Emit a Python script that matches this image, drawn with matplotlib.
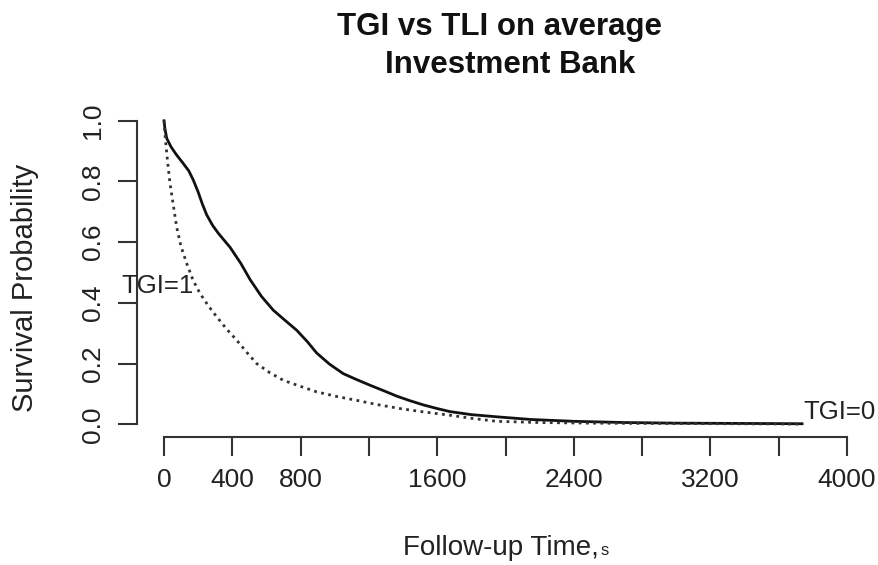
import matplotlib
matplotlib.use("Agg")
import matplotlib.pyplot as plt
import numpy as np

plt.rcParams["font.family"] = ["Liberation Sans", "DejaVu Sans"]

# survival curves
tgi0_time = [0, 5, 16, 40, 70, 113, 145, 172, 200, 225, 250, 285, 320, 387, 450,
             504, 570, 640, 710, 777, 840, 894, 970, 1050, 1130, 1206, 1290, 1363,
             1440, 1519, 1600, 1675, 1800, 1968, 2150, 2400, 2700, 3000, 3400, 3737]
tgi0_surv = [1.0, 0.975, 0.942, 0.915, 0.89, 0.859, 0.835, 0.804, 0.765, 0.725,
             0.69, 0.655, 0.628, 0.583, 0.53, 0.477, 0.422, 0.376, 0.342, 0.31,
             0.272, 0.235, 0.198, 0.167, 0.147, 0.129, 0.11, 0.093, 0.078, 0.064,
             0.052, 0.042, 0.032, 0.024, 0.016, 0.01, 0.006, 0.004, 0.003, 0.002]

tgi1_time = [0, 8, 20, 35, 55, 74, 100, 133, 170, 211, 260, 309, 365, 426, 485,
             543, 620, 699, 800, 894, 1010, 1129, 1250, 1382, 1520, 1675, 1800,
             1948, 2200, 2500, 2900, 3300, 3737]
tgi1_surv = [1.0, 0.94, 0.87, 0.794, 0.72, 0.65, 0.585, 0.53, 0.475, 0.431, 0.39,
             0.354, 0.315, 0.277, 0.237, 0.2, 0.17, 0.145, 0.125, 0.107, 0.092,
             0.079, 0.065, 0.052, 0.041, 0.030, 0.02, 0.01, 0.006, 0.004, 0.003,
             0.002, 0.001]

x_ticks = [0, 400, 800, 1200, 1600, 2000, 2400, 2800, 3200, 3600, 4000]
x_labels = ["0", "400", "800", "", "1600", "", "2400", "", "3200", "", "4000"]
y_ticks = [0.0, 0.2, 0.4, 0.6, 0.8, 1.0]
y_labels = ["0.0", "0.2", "0.4", "0.6", "0.8", "1.0"]

W, H = 879, 565
fig = plt.figure(figsize=(W / 100, H / 100), dpi=100)
ax = fig.add_axes([136.7 / W, (H - 436.5) / H, 737.6 / W, 327.9 / H])

axis_color = "#333333"
text_color = "#222222"

ax.plot(tgi0_time, tgi0_surv, color="#111111", lw=2.0, solid_joinstyle="round")
ax.plot(tgi1_time, tgi1_surv, color="#333333", lw=2.0, linestyle=(0, (1, 1.6)))

ax.set_xlim(-160, 4160)
ax.set_ylim(-0.04, 1.04)

for side in ("top", "right"):
    ax.spines[side].set_visible(False)
ax.spines["left"].set_bounds(0, 1)
ax.spines["bottom"].set_bounds(0, 4000)
for side in ("left", "bottom"):
    ax.spines[side].set_color(axis_color)
    ax.spines[side].set_linewidth(1.5)

ax.set_xticks(x_ticks)
ax.set_xticklabels(x_labels)
ax.set_yticks(y_ticks)
ax.set_yticklabels(y_labels, rotation=90, va="center")
ax.tick_params(axis="both", length=14, width=1.5, color=axis_color,
               labelsize=19, labelcolor=text_color)
ax.tick_params(axis="x", pad=9)
ax.tick_params(axis="y", pad=9)

ax.text(-248, 0.432, "TGI=1", fontsize=18.5, color=text_color,
        ha="left", va="baseline")
ax.text(3742, 0.019, "TGI=0", fontsize=18.5, color=text_color,
        ha="left", va="baseline", clip_on=False)

fig.text(25 / W, 1 - 288 / H, "Survival Probability", rotation=90,
         fontsize=21, color=text_color, ha="center", va="center")

fig.text(403 / W, 1 - 555 / H, "Follow-up Time,", fontsize=20,
         color=text_color, ha="left", va="baseline")
fig.text(601 / W, 1 - 555 / H, "s", fontsize=12, color=text_color,
         ha="left", va="baseline")

fig.text(500 / W, 1 - 35 / H, "TGI vs TLI on average", fontsize=22.5,
         fontweight="bold", color="#111111", ha="center", va="baseline")
fig.text(510 / W, 1 - 73 / H, "Investment Bank", fontsize=22.5,
         fontweight="bold", color="#111111", ha="center", va="baseline")

fig.savefig("out.png", dpi=100)
